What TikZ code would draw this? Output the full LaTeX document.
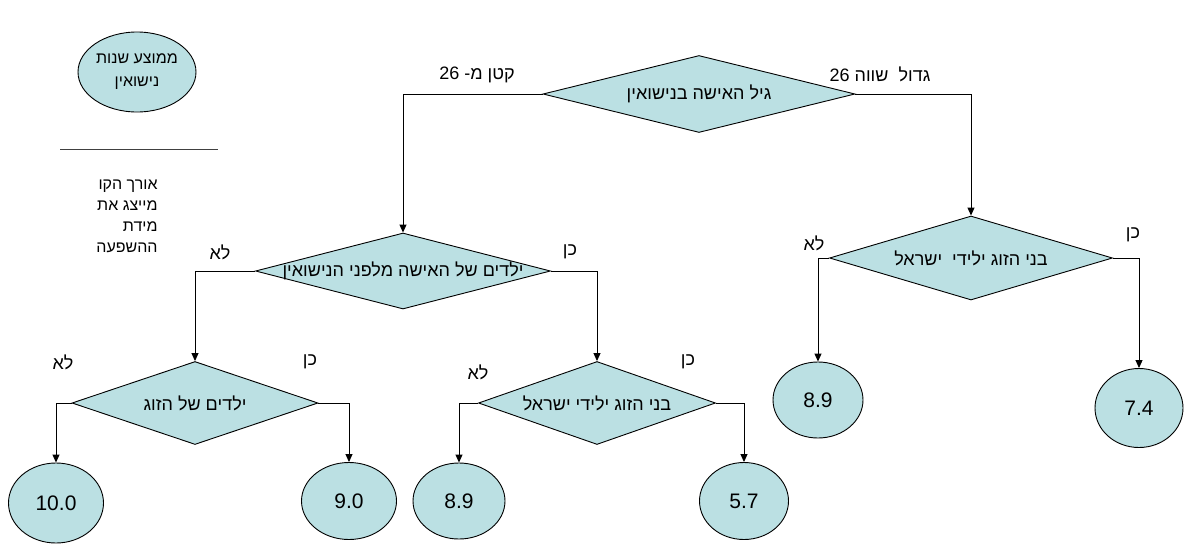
\documentclass[tikz,border=0pt]{standalone}
\usepackage{fontspec}
\setmainfont{Liberation Sans}[Script=Hebrew]
\TeXXeTstate=1
\usetikzlibrary{shapes.geometric, arrows.meta}
\definecolor{boxfill}{RGB}{187,224,227}

\begin{document}
\begin{tikzpicture}[x=1pt, y=-1pt, line width=0.9pt,
                    question/.style={diamond, draw, fill=boxfill, inner sep=0pt},
                    leaf/.style={ellipse, draw, fill=boxfill, inner sep=0pt, font=\fontsize{21}{25}\selectfont},
                    answer/.style={font=\fontsize{18}{22}\selectfont},
                    every label/.style={font=\fontsize{18}{22}\selectfont},
                    >={Triangle[length=8pt, width=7pt]}]
                \useasboundingbox (0,0) rectangle (1184,544);
                % legend
                \node [leaf, minimum width=118pt, minimum height=80pt, align=center, font=\fontsize{16}{23}\selectfont] (legend) at (137,72) {\beginR ממוצע שנות\endR\\\beginR נישואין\endR};
                \coordinate (lineL) at (60,149);
                \coordinate (lineR) at (218,149);
                \draw [line width=0.8pt, black!75] (lineL) -- (lineR);
                \node [anchor=north east, align=right, inner sep=0pt, font=\fontsize{16}{21}\selectfont] (legtext) at (158,179) {\beginR אורך הקו\endR\\\beginR מייצג את\endR\\\beginR מידת\endR\\\beginR ההשפעה\endR};
                % questions
                \node [question, minimum width=312pt, minimum height=77pt, label={center:\beginR גיל האישה בנישואין\endR}] (age) at (699,94) {};
                \node [question, minimum width=295pt, minimum height=76pt, label={center:\beginR ילדים של האישה מלפני הנישואין\endR}] (kids) at (403,271) {};
                \node [question, minimum width=283pt, minimum height=84pt, label={center:\beginR בני הזוג ילידי~ ישראל\endR}] (isrA) at (971,258) {};
                \node [question, minimum width=246pt, minimum height=83pt, label={center:\beginR ילדים של הזוג\endR}] (couple) at (195,403) {};
                \node [question, minimum width=237pt, minimum height=83pt, label={center:\beginR בני הזוג ילידי ישראל\endR}] (isrB) at (597,403) {};
                % leaves
                \node [leaf, minimum width=95pt, minimum height=80pt] (leafA) at (56,503) {10.0};
                \node [leaf, minimum width=95pt, minimum height=77pt] (leafB) at (349,501) {9.0};
                \node [leaf, minimum width=92pt, minimum height=76pt] (leafC) at (459,501) {8.9};
                \node [leaf, minimum width=89pt, minimum height=77pt] (leafD) at (744,501) {5.7};
                \node [leaf, minimum width=90pt, minimum height=76pt] (leafE) at (818,400) {8.9};
                \node [leaf, minimum width=88pt, minimum height=79pt] (leafF) at (1139,408) {7.4};
                % edges
                \draw [->] (age.west) -| (kids.north);
                \draw [->] (age.east) -| (isrA.north);
                \draw [->] (kids.west) -| (couple.north);
                \draw [->] (kids.east) -| (isrB.north);
                \draw [->] (couple.west) -| (leafA.north);
                \draw [->] (couple.east) -| (leafB.north);
                \draw [->] (isrB.west) -| (leafC.north);
                \draw [->] (isrB.east) -| (leafD.north);
                \draw [->] (isrA.west) -| (leafE.north);
                \draw [->] (isrA.east) -| (leafF.north);
                % branch labels
                \node [answer] (ageNo) at (477,75) {\beginR קטן מ- 26\endR};
                \node [answer] (ageYes) at (880,74) {\beginR גדול~ שווה 26\endR};
                \node [answer] (kidsNo) at (220,252) {\beginR לא\endR};
                \node [answer] (kidsYes) at (570,252) {\beginR כן\endR};
                \node [answer] (isrANo) at (814,243) {\beginR לא\endR};
                \node [answer] (isrAYes) at (1133,235) {\beginR כן\endR};
                \node [answer] (coupleNo) at (63,362) {\beginR לא\endR};
                \node [answer] (coupleYes) at (310,362) {\beginR כן\endR};
                \node [answer] (isrBNo) at (478,372) {\beginR לא\endR};
                \node [answer] (isrBYes) at (688,362) {\beginR כן\endR};
\end{tikzpicture}
\end{document}
